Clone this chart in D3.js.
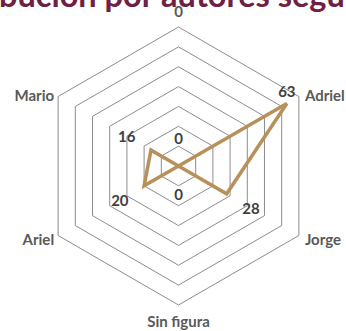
<!DOCTYPE html>
<html><head><meta charset="utf-8">
<script src="https://cdn.jsdelivr.net/npm/d3@7"></script>
<style>
html,body{margin:0;padding:0;background:#fff;overflow:hidden}
svg{display:block}
text{font-family:Lato,"Liberation Sans",sans-serif;font-weight:bold}
</style></head>
<body>
<script>
const title = "Distribución por autores según figura";
const categories = ["0", "Adriel", "Jorge", "Sin figura", "Ariel", "Mario"];
const values = [0, 63, 28, 0, 20, 16];
const ringTicks = [10, 20, 30, 40, 50, 60, 70];

const W = 346, H = 331;
const cx = 178.5, cy = 166, R = 139;
const svg = d3.select("body").append("svg").attr("width", W).attr("height", H);

const r = d3.scaleLinear().domain([0, 70]).range([0, R]);
const ang = d3.scalePoint().domain(d3.range(categories.length + 1)).range([-Math.PI/2, 1.5*Math.PI]);
const pt = (i, v) => [cx + r(v)*Math.cos(ang(i)), cy + r(v)*Math.sin(ang(i))];

// title (clipped at top)
svg.append("text").attr("x", 187).attr("y", 7).attr("text-anchor","middle")
  .attr("font-size", 32.5).attr("fill", "#6e2142").text(title);

// rings
const line = d3.line();
ringTicks.forEach(t => {
  svg.append("path").attr("d", line(categories.map((c,i)=>pt(i,t))) + "Z")
    .attr("fill","none").attr("stroke","#8c8c8c").attr("stroke-width",1);
});

// series
svg.append("path").attr("d", line(values.map((v,i)=>pt(i,v))) + "Z")
  .attr("fill","none").attr("stroke","#b8915a").attr("stroke-width",3.5).attr("stroke-linejoin","miter");

// category labels
categories.forEach((c,i)=>{
  const a = ang(i), [x,y] = pt(i, 70);
  const cs = Math.cos(a), sn = Math.sin(a);
  let tx = x, ty = y, anchor = "middle";
  if (Math.abs(cs) < 0.1) { ty = y + (sn < 0 ? -16 : 16); }
  else { tx = x + (cs > 0 ? 6 : -4); anchor = cs > 0 ? "start" : "end"; ty = y + (sn < 0 ? -2 : 3.5); }
  svg.append("text").attr("x",tx).attr("y",ty).attr("text-anchor",anchor)
    .attr("dominant-baseline","central").attr("font-size",15).attr("fill","#595959").text(c);
});

// data labels
values.forEach((v,i)=>{
  const a = ang(i), [x,y] = pt(i, v);
  let tx = x + 28*Math.cos(a), ty = y + 28*Math.sin(a);
  if (i === 1) { tx = x; ty = y - 12; }
  svg.append("text").attr("x",tx).attr("y",ty).attr("text-anchor","middle")
    .attr("dominant-baseline","central").attr("font-size",15).attr("fill","#404040").text(v);
});
</script>
</body></html>
